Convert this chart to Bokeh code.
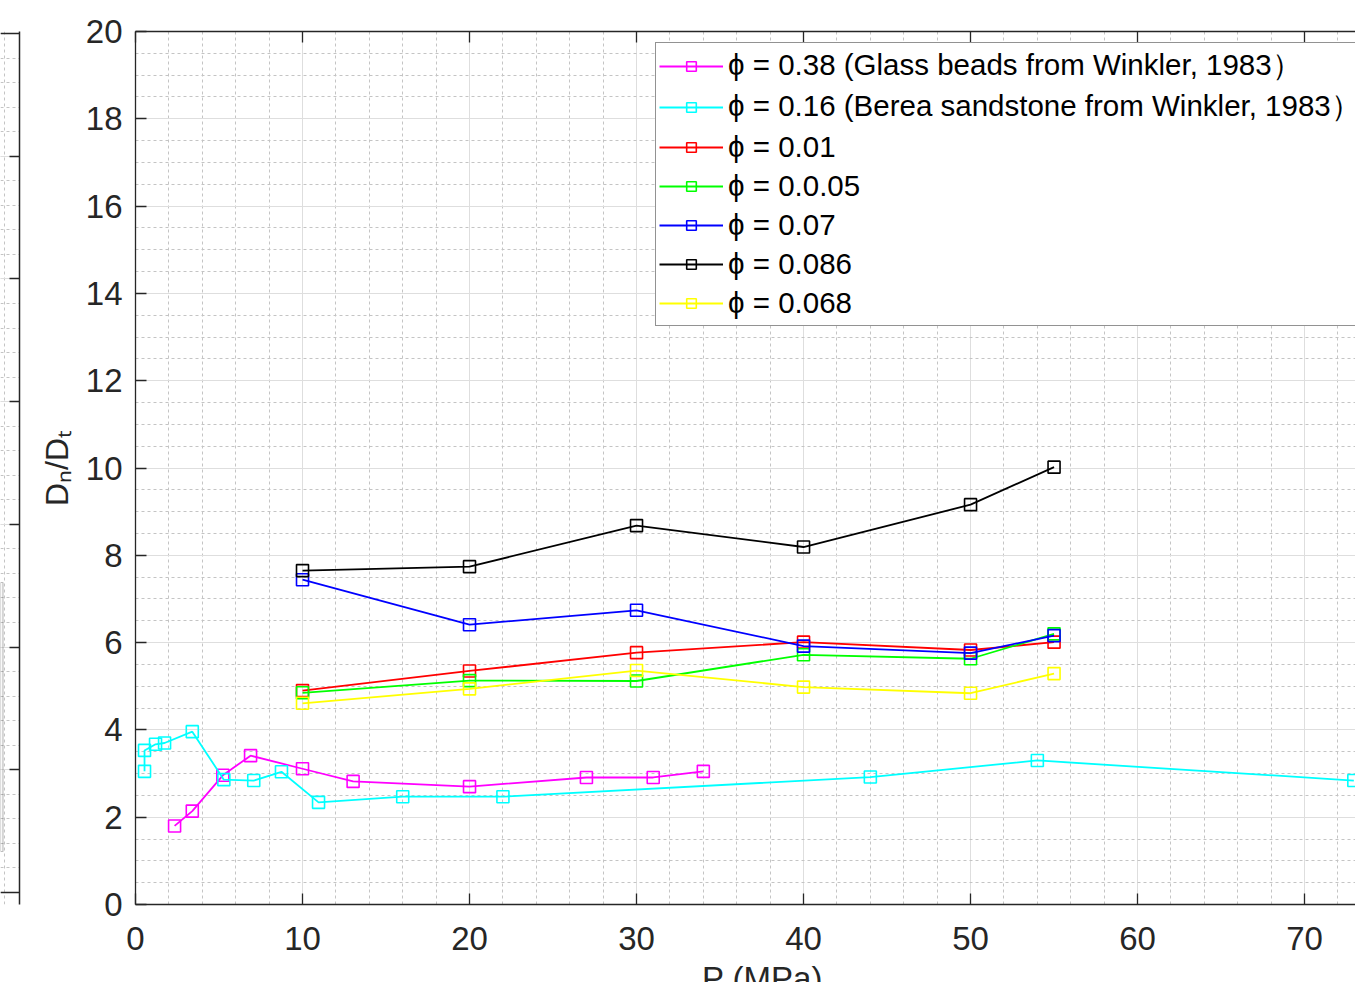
from bokeh.plotting import figure
from bokeh.models import (Range1d, SingleIntervalTicker, FixedTicker, LinearAxis,
                          Legend, LegendItem, Span, BoxAnnotation)
from bokeh.layouts import row, column
from bokeh.core.properties import value
from bokeh.embed import file_html
from bokeh.resources import INLINE

# ---------------- data ----------------
glass_p = [2.34, 3.40, 5.23, 6.89, 10.0, 13.03, 20.0, 27.0, 31.0, 34.0]
glass_r = [1.80, 2.14, 2.96, 3.41, 3.11, 2.82, 2.70, 2.91, 2.91, 3.05]

berea_p = [0.54, 0.54, 1.20, 1.74, 3.40, 5.29, 7.08, 8.74, 10.96, 16.0, 22.0, 44.0, 54.0, 72.95]
berea_r = [3.05, 3.53, 3.67, 3.70, 3.96, 2.86, 2.84, 3.04, 2.34, 2.47, 2.47, 2.92, 3.30, 2.84]

p_lab = [10, 20, 30, 40, 50, 55]
r_001 = [4.90, 5.35, 5.77, 6.01, 5.83, 6.01]
r_005 = [4.85, 5.13, 5.12, 5.72, 5.63, 6.20]
r_007 = [7.44, 6.41, 6.74, 5.92, 5.76, 6.16]
r_0086 = [7.65, 7.74, 8.68, 8.19, 9.16, 10.02]
r_0068 = [4.61, 4.94, 5.36, 4.98, 4.84, 5.29]

series_labels = [
    "ϕ = 0.38 (Glass beads from Winkler, 1983）",
    "ϕ = 0.16 (Berea sandstone from Winkler, 1983）",
    "ϕ = 0.01",
    "ϕ = 0.0.05",
    "ϕ = 0.07",
    "ϕ = 0.086",
    "ϕ = 0.068",
]
series_colors = ["#ff00ff", "#00ffff", "#ff0000", "#00ff00", "#0000ff", "#000000", "#ffff00"]
series_x = [glass_p, berea_p, p_lab, p_lab, p_lab, p_lab, p_lab]
series_y = [glass_r, berea_r, r_001, r_005, r_007, r_0086, r_0068]

x_label = "P (MPa)"
y_label = "Dₙ/Dₜ"

AX = "#262626"
MAJ = "#dedede"
MIN = "#c4c4c4"
FONT = "Liberation Sans"

TOP = 31
BOT = 56
H = 960
LW = 21

# ---------------- left fragment (edge of the neighbouring subplot) ----------------
lf = figure(width=LW, height=H, x_range=Range1d(0, 1), y_range=Range1d(-0.0978, 7.0163),
            output_backend="svg", toolbar_location=None,
            min_border_left=0, min_border_right=2, min_border_top=TOP, min_border_bottom=BOT,
            x_axis_location=None, y_axis_location=None)
lf.outline_line_color = None
lt = SingleIntervalTicker(interval=1, num_minor_ticks=5)
lf.xgrid.ticker = FixedTicker(ticks=[0.22])
lf.xgrid.grid_line_color = MIN
lf.xgrid.grid_line_dash = "3 3"
lf.ygrid.ticker = lt
lf.ygrid.grid_line_color = MAJ
lf.ygrid.minor_grid_line_color = MIN
lf.ygrid.minor_grid_line_dash = "3 3"
ra = LinearAxis(ticker=FixedTicker(ticks=[1, 2, 3, 4, 5, 6]), major_tick_in=10, major_tick_out=0,
                minor_tick_line_color=None,
                major_label_text_font_size="0px", major_label_standoff=0,
                axis_line_color=AX, major_tick_line_color=AX, axis_line_width=1.5,
                major_tick_line_width=1.5)
lf.add_layout(ra, "right")
lf.add_layout(Span(location=0, dimension="width", line_color=AX, line_width=1.5))
lf.add_layout(Span(location=7, dimension="width", line_color=AX, line_width=1.5))
lf.add_layout(BoxAnnotation(right=0.13, top=2.526, bottom=0.334, fill_alpha=0,
                            line_color=AX, line_width=1.2))
lf.line([0, 1], [0, 0], line_alpha=0)

# ---------------- main figure ----------------
p = figure(width=1355 - LW, height=H, x_range=Range1d(0, 73.05), y_range=Range1d(0, 20),
           output_backend="svg", toolbar_location=None,
           min_border_left=135 - LW, min_border_right=0, min_border_top=TOP, min_border_bottom=BOT)
p.outline_line_color = None

xt = SingleIntervalTicker(interval=10, num_minor_ticks=5)
yt = SingleIntervalTicker(interval=2, num_minor_ticks=4)

for ax, t in ((p.xaxis[0], xt), (p.yaxis[0], yt)):
    ax.ticker = t
    ax.major_tick_in = 11
    ax.major_tick_out = 0
    ax.minor_tick_line_color = None
    ax.axis_line_color = AX
    ax.axis_line_width = 1.3
    ax.major_tick_line_color = AX
    ax.major_tick_line_width = 1.3
    ax.major_label_text_font = FONT
    ax.major_label_text_font_size = "33px"
    ax.major_label_text_color = AX
p.xaxis.major_label_standoff = 18
p.yaxis.major_label_standoff = 9
p.yaxis.axis_label = y_label
p.yaxis.axis_label_text_font = FONT
p.yaxis.axis_label_text_font_size = "32px"
p.yaxis.axis_label_text_font_style = "normal"
p.yaxis.axis_label_text_color = AX
p.yaxis.axis_label_standoff = 8

top = LinearAxis(ticker=xt, major_tick_in=11, major_tick_out=0, minor_tick_line_color=None,
                 major_label_text_font_size="0px", major_label_standoff=0,
                 axis_line_color=AX, axis_line_width=1.3, major_tick_line_color=AX,
                 major_tick_line_width=1.3)
p.add_layout(top, "above")

p.xgrid.ticker = xt
p.ygrid.ticker = yt
for g in (p.xgrid[0], p.ygrid[0]):
    g.grid_line_color = MAJ
    g.grid_line_width = 1
    g.minor_grid_line_color = MIN
    g.minor_grid_line_dash = "3 3"
    g.minor_grid_line_width = 1

items = []
for lab, col, xs, ys in zip(series_labels, series_colors, series_x, series_y):
    lr = p.line(xs, ys, line_color=col, line_width=1.8)
    sr = p.scatter(xs, ys, marker="square", size=12, line_color=col, line_width=1.6,
                   fill_color=None)
    items.append(LegendItem(label=lab, renderers=[lr, sr]))

leg = Legend(items=items, location=(520, 578), margin=0, padding=3, spacing=1,
             glyph_width=64, glyph_height=24, label_standoff=5, label_height=38,
             label_text_line_height=1.0,
             label_text_font=FONT, label_text_font_size="29.5px", label_text_color="black",
             border_line_color=AX, border_line_width=1.3, background_fill_alpha=1,
             background_fill_color="white")
p.add_layout(leg, "center")

# ---------------- strip below holding the (cropped) x-axis title ----------------
bf = figure(width=1355, height=982 - H, x_range=Range1d(0, 1355), y_range=Range1d(0, 982 - H),
            output_backend="svg", toolbar_location=None,
            min_border_left=0, min_border_right=0, min_border_top=0, min_border_bottom=0,
            x_axis_location=None, y_axis_location=None)
bf.outline_line_color = None
bf.xgrid.visible = False
bf.ygrid.visible = False
bf.text(x=[762], y=[982 - H + 1], text=[x_label], text_font=value(FONT),
        text_font_size="33px", text_color=AX, text_align="center", text_baseline="top")

layout = column(row(lf, p), bf)
open("out.html", "w").write(file_html(layout, INLINE))
